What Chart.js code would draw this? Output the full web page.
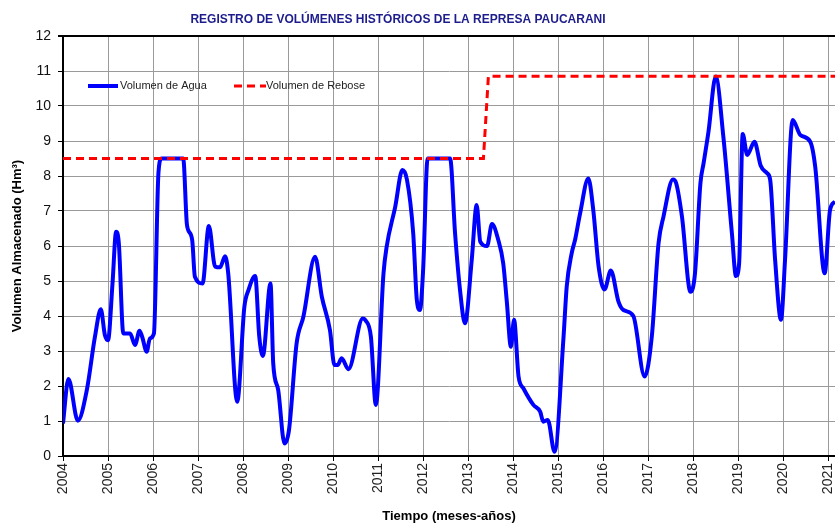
<!DOCTYPE html>
<html>
<head>
<meta charset="utf-8">
<script src="https://cdn.jsdelivr.net/npm/chart.js@4"></script>
<style>
  body { margin: 0; background: #fff; }
  canvas { display: block; }
</style>
</head>
<body>
<canvas id="chart" width="835" height="524"></canvas>
<script>
// Volumen de Agua (Hm3): año decimal y volumen
const aguaYears = [
  2004.0, 2004.12, 2004.33, 2004.53, 2004.71, 2004.84, 2004.93, 2005.0, 2005.1, 2005.18,
  2005.24, 2005.34, 2005.49, 2005.6, 2005.7, 2005.76, 2005.86, 2005.93, 2006.02, 2006.12,
  2006.19, 2006.67, 2006.75, 2006.78, 2006.87, 2006.93, 2007.1, 2007.24, 2007.38, 2007.49,
  2007.6, 2007.67, 2007.87, 2008.03, 2008.12, 2008.27, 2008.36, 2008.44, 2008.61, 2008.67,
  2008.78, 2008.92, 2009.02, 2009.19, 2009.34, 2009.6, 2009.75, 2009.93, 2010.03, 2010.1,
  2010.19, 2010.34, 2010.66, 2010.72, 2010.84, 2010.95, 2011.12, 2011.19, 2011.38, 2011.54,
  2011.64, 2011.78, 2011.86, 2011.93, 2012.0, 2012.1, 2012.6, 2012.71, 2012.82, 2012.93,
  2013.08, 2013.19, 2013.27, 2013.42, 2013.53, 2013.67, 2013.78, 2013.86, 2013.95, 2014.02,
  2014.12, 2014.23, 2014.45, 2014.6, 2014.67, 2014.77, 2014.92, 2015.12, 2015.19, 2015.3,
  2015.38, 2015.49, 2015.67, 2015.78, 2015.9, 2016.03, 2016.17, 2016.34, 2016.45, 2016.67,
  2016.92, 2017.08, 2017.23, 2017.34, 2017.55, 2017.62, 2017.75, 2017.94, 2018.04, 2018.16,
  2018.23, 2018.34, 2018.5, 2018.67, 2018.86, 2018.95, 2019.02, 2019.1, 2019.2, 2019.36,
  2019.5, 2019.64, 2019.71, 2019.82, 2019.95, 2020.04, 2020.21, 2020.38, 2020.6, 2020.71,
  2020.92, 2021.04, 2021.15
];
const aguaVolumes = [
  0.93, 2.2, 1.01, 1.89, 3.41, 4.19, 3.46, 3.31, 4.93, 6.41,
  6.08, 3.5, 3.5, 3.17, 3.58, 3.4, 2.98, 3.36, 3.5, 8.08,
  8.5, 8.5, 6.65, 6.46, 6.17, 5.12, 4.93, 6.57, 5.41, 5.39,
  5.71, 5.22, 1.55, 4.27, 4.74, 5.14, 3.41, 2.86, 4.93, 2.65,
  1.89, 0.36, 0.74, 3.22, 3.98, 5.69, 4.55, 3.6, 2.6, 2.6,
  2.79, 2.48, 3.93, 3.88, 3.41, 1.46, 5.22, 5.98, 7.12, 8.17,
  7.9, 6.36, 4.46, 4.17, 5.31, 8.5, 8.5, 6.36, 4.74, 3.79,
  5.6, 7.17, 6.12, 6.0, 6.63, 6.17, 5.5, 4.4, 3.12, 3.89,
  2.27, 1.93, 1.46, 1.27, 0.98, 1.03, 0.12, 3.41, 4.84, 5.79,
  6.2, 6.95, 7.93, 7.03, 5.4, 4.76, 5.3, 4.41, 4.17, 4.0,
  2.27, 3.41, 6.08, 6.84, 7.9, 7.8, 6.84, 4.69, 5.22, 7.79,
  8.36, 9.27, 10.84, 9.12, 6.36, 5.14, 5.5, 9.2, 8.6, 8.98,
  8.29, 8.08, 7.89, 5.6, 3.89, 5.6, 9.6, 9.17, 8.98, 8.27,
  5.22, 7.03, 7.27
];

// Volumen de Rebose (Hm3)
const reboseYears = [2004.0, 2013.34, 2013.45, 2021.15];
const reboseVolumes = [8.5, 8.5, 10.85, 10.85];

const xMin = 2004;
const xMax = 2021.15;

const tituloGrafico = 'REGISTRO DE VOLÚMENES HISTÓRICOS DE LA REPRESA PAUCARANI';
const labelAgua = 'Volumen de Agua';
const labelRebose = 'Volumen de Rebose';

const FONT = '"Liberation Sans", Arial, sans-serif';

const toPoints = (xs, ys) => xs.map((x, i) => ({ x: x, y: ys[i] }));

// título y leyenda dibujados a mano
const extras = {
  id: 'extras',
  afterDraw(chart) {
    const ctx = chart.ctx;
    const area = chart.chartArea;
    ctx.save();
    ctx.font = 'bold 12px ' + FONT;
    ctx.fillStyle = '#1c1c8c';
    ctx.textAlign = 'center';
    ctx.textBaseline = 'middle';
    ctx.fillText(tituloGrafico, 398, 20);

    // leyenda
    const ly = area.top + 50;
    ctx.font = '11px ' + FONT;
    ctx.fillStyle = '#222';
    ctx.textAlign = 'left';
    ctx.lineCap = 'butt';

    ctx.strokeStyle = '#0000ff';
    ctx.lineWidth = 4;
    ctx.beginPath();
    ctx.moveTo(area.left + 25, ly);
    ctx.lineTo(area.left + 55, ly);
    ctx.stroke();
    ctx.fillText(labelAgua, area.left + 57, ly);

    ctx.strokeStyle = '#ff0000';
    ctx.lineWidth = 3;
    ctx.setLineDash([8, 5]);
    ctx.beginPath();
    ctx.moveTo(area.left + 171, ly);
    ctx.lineTo(area.left + 203, ly);
    ctx.stroke();
    ctx.setLineDash([]);
    ctx.fillText(labelRebose, area.left + 203, ly);
    ctx.restore();
  }
};

new Chart(document.getElementById('chart'), {
  type: 'line',
  data: {
    datasets: [
      {
        label: labelRebose,
        data: toPoints(reboseYears, reboseVolumes),
        borderColor: '#ff0000',
        borderWidth: 3,
        borderDash: [8, 5],
        pointRadius: 0,
        tension: 0,
        fill: false,
      },
      {
        label: labelAgua,
        data: toPoints(aguaYears, aguaVolumes),
        borderColor: '#0000ff',
        borderWidth: 4,
        pointRadius: 0,
        cubicInterpolationMode: 'monotone',
        fill: false,
      },
    ],
  },
  options: {
    responsive: false,
    animation: false,
    layout: { padding: { top: 36, right: 0, left: 0, bottom: 0 } },
    plugins: {
      legend: { display: false },
      title: { display: false },
      tooltip: { enabled: false },
    },
    scales: {
      x: {
        type: 'linear',
        min: xMin,
        max: xMax,
        afterFit: (scale) => {
          scale.height = 68;
          scale.paddingRight = 0;
          scale.paddingLeft = 0;
        },
        grid: { color: '#9a9a9a', lineWidth: 1, tickLength: 5, tickColor: '#000' },
        border: { color: '#000', width: 2 },
        ticks: {
          stepSize: 1,
          includeBounds: false,
          autoSkip: false,
          minRotation: 90,
          maxRotation: 90,
          padding: 2,
          color: '#222',
          font: { family: FONT, size: 14 },
          callback: (v) => Number.isInteger(v) ? String(v) : '',
        },
        title: {
          display: true,
          text: 'Tiempo (meses-años)',
          color: '#000',
          font: { family: FONT, size: 13, weight: 'bold' },
          padding: { top: 0, bottom: 0 },
        },
      },
      y: {
        min: 0,
        max: 12,
        afterFit: (scale) => { scale.width = 63; },
        grid: {
          color: (c) => c.tick && c.tick.value === 12 ? '#000' : '#9a9a9a',
          lineWidth: (c) => c.tick && c.tick.value === 12 ? 2 : 1,
          tickLength: 5,
          tickColor: '#000',
        },
        border: { color: '#000', width: 2 },
        ticks: {
          stepSize: 1,
          padding: 7,
          color: '#111',
          font: { family: FONT, size: 14 },
        },
        title: {
          display: true,
          text: 'Volumen Almacenado (Hm³)',
          color: '#000',
          font: { family: FONT, size: 13, weight: 'bold' },
          padding: { top: 10, bottom: 0 },
        },
      },
    },
  },
  plugins: [extras],
});
</script>
</body>
</html>
